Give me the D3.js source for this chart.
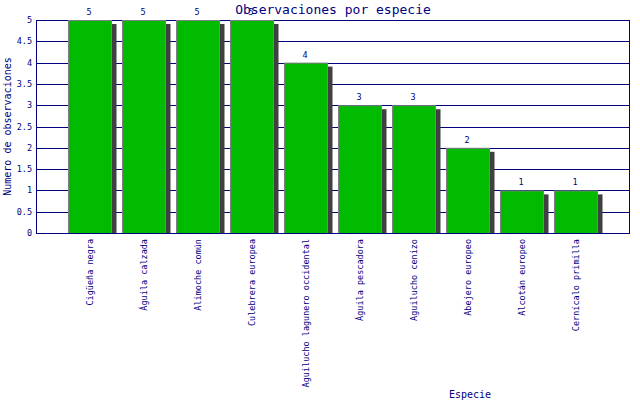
<!DOCTYPE html>
<html>
<head>
<meta charset="utf-8">
<script src="https://cdn.jsdelivr.net/npm/d3@7"></script>
<style>
  body { margin: 0; background: #fff; }
  text { font-family: "DejaVu Sans Mono", monospace; fill: #000080; }
</style>
</head>
<body>
<div id="chart"></div>
<script>
// --- data ---
const species = [
    "Cigüeña negra", "Águila calzada", "Alimoche común", "Culebrera europea",
    "Aguilucho lagunero occidental", "Águila pescadora", "Aguilucho cenizo",
    "Abejero europeo", "Alcotán europeo", "Cernícalo primilla"
];
const counts = [5, 5, 5, 5, 4, 3, 3, 2, 1, 1];
const yTicks = [0, 0.5, 1, 1.5, 2, 2.5, 3, 3.5, 4, 4.5, 5];

const width = 640, height = 400;
const margin = { top: 20, right: 10, bottom: 167, left: 36 };
const navy = "#000080";

const svg = d3.select("#chart").append("svg")
    .attr("width", width)
    .attr("height", height);

const x = d3.scalePoint()
    .domain(species)
    .range([margin.left, width - margin.right])
    .padding(1);

const y = d3.scaleLinear()
    .domain([0, 5])
    .range([height - margin.bottom, margin.top]);

const barW = 43;

// grid lines
svg.append("g")
    .selectAll("line")
    .data(yTicks)
    .enter().append("line")
    .attr("x1", margin.left)
    .attr("x2", width - margin.right)
    .attr("y1", d => Math.round(y(d)) + 0.5)
    .attr("y2", d => Math.round(y(d)) + 0.5)
    .attr("stroke", navy)
    .attr("stroke-width", 1);

// shadows
svg.append("g")
    .selectAll("rect")
    .data(counts)
    .enter().append("rect")
    .attr("x", (d, i) => x(species[i]) - barW / 2 + 5)
    .attr("y", d => y(d) + 4)
    .attr("width", barW)
    .attr("height", d => y(0) - y(d) - 4)
    .attr("fill", "#404040");

// bars
svg.append("g")
    .selectAll("rect")
    .data(counts)
    .enter().append("rect")
    .attr("x", (d, i) => x(species[i]) - barW / 2)
    .attr("y", d => y(d) + 0.5)
    .attr("width", barW)
    .attr("height", d => y(0) - y(d))
    .attr("fill", "#00bb00")
    .attr("stroke", "#808080")
    .attr("stroke-width", 1);

// value labels
svg.append("g")
    .selectAll("text")
    .data(counts)
    .enter().append("text")
    .attr("x", (d, i) => x(species[i]) - 1)
    .attr("y", d => y(d) - 5)
    .attr("text-anchor", "middle")
    .style("font-size", "8.5px")
    .text(d => d);

// axes frame
const frame = svg.append("g").attr("stroke", navy).attr("stroke-width", 1);
frame.append("line")
    .attr("x1", margin.left + 0.5).attr("x2", margin.left + 0.5)
    .attr("y1", margin.top).attr("y2", y(0) + 1);
frame.append("line")
    .attr("x1", width - margin.right - 0.5).attr("x2", width - margin.right - 0.5)
    .attr("y1", margin.top).attr("y2", y(0) + 1);
frame.append("line")
    .attr("x1", margin.left).attr("x2", width - margin.right)
    .attr("y1", Math.round(y(0)) + 0.5).attr("y2", Math.round(y(0)) + 0.5);

// y tick labels
svg.append("g")
    .selectAll("text")
    .data(yTicks)
    .enter().append("text")
    .attr("x", margin.left - 4)
    .attr("y", d => y(d) + 3)
    .attr("text-anchor", "end")
    .style("font-size", "8.5px")
    .text(d => d);

// x category labels
svg.append("g")
    .selectAll("text")
    .data(species)
    .enter().append("text")
    .attr("transform", d => `translate(${x(d) + 3},${y(0) + 6}) rotate(-90)`)
    .attr("text-anchor", "end")
    .style("font-size", "8.5px")
    .text(d => d);

// title and axis titles
svg.append("text")
    .attr("x", (margin.left + width - margin.right) / 2)
    .attr("y", 14)
    .attr("text-anchor", "middle")
    .style("font-size", "13px")
    .text("Observaciones por especie");

svg.append("text")
    .attr("transform", `translate(11,${(margin.top + y(0)) / 2}) rotate(-90)`)
    .attr("text-anchor", "middle")
    .style("font-size", "10px")
    .text("Numero de observaciones");

svg.append("text")
    .attr("x", 470)
    .attr("y", 398)
    .attr("text-anchor", "middle")
    .style("font-size", "10px")
    .text("Especie");
</script>
</body>
</html>
